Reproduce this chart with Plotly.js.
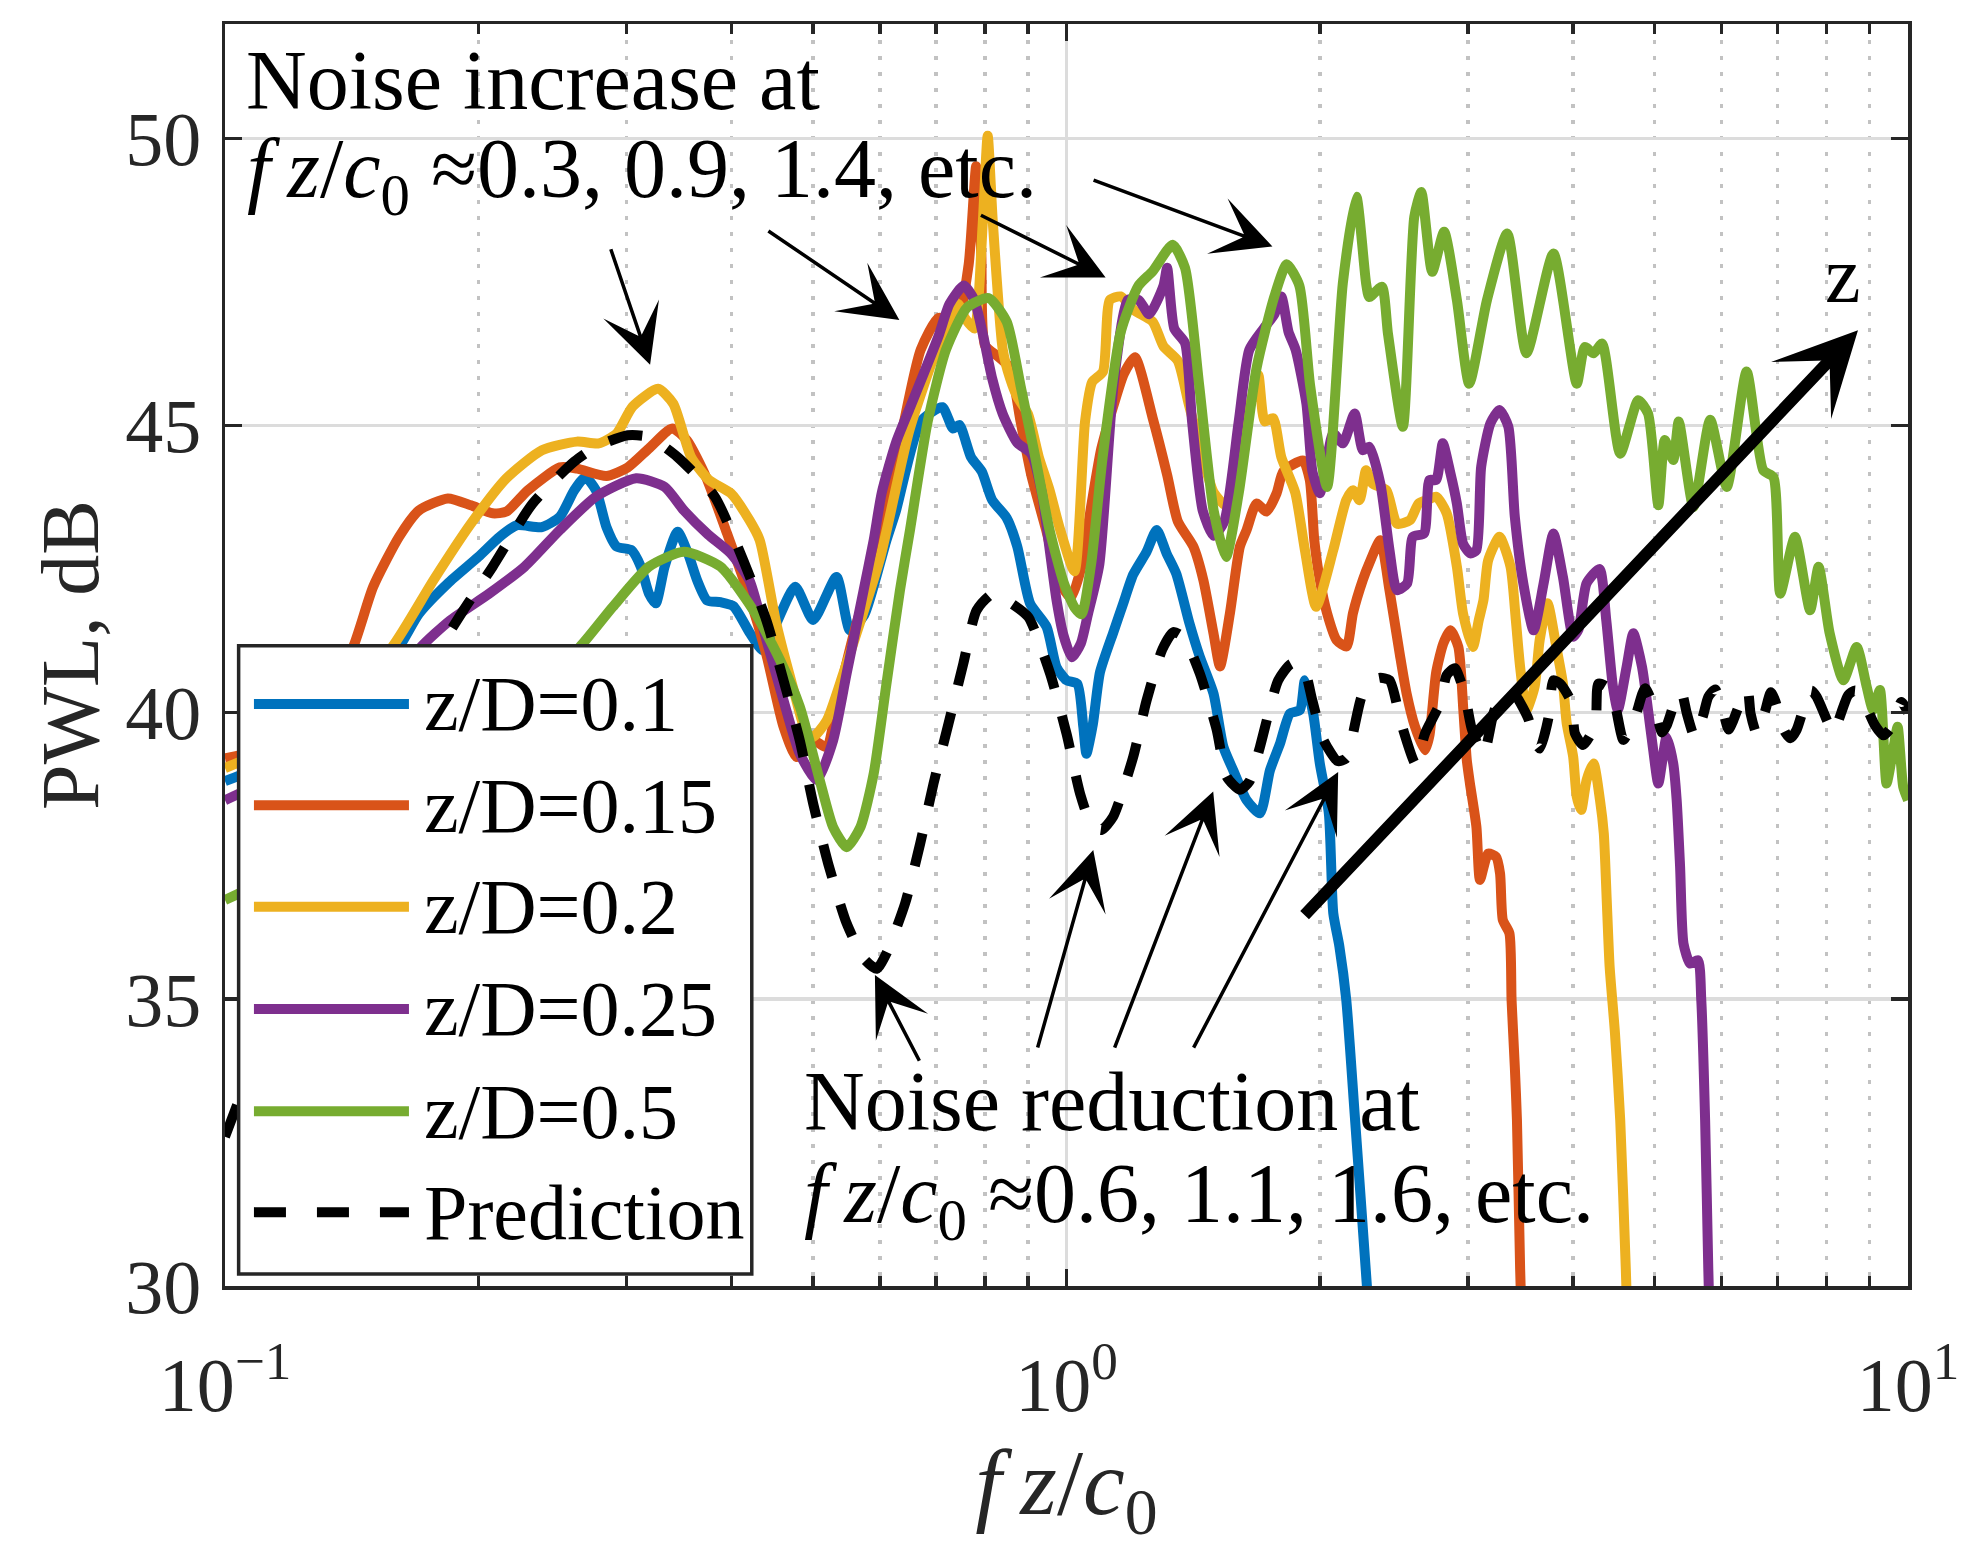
<!DOCTYPE html>
<html>
<head>
<meta charset="utf-8">
<script src="https://cdn.plot.ly/plotly-3.0.1.min.js"></script>
<style>
  html, body { margin: 0; padding: 0; background: #fff; }
  #chart { width: 1970px; height: 1548px; }
</style>
</head>
<body>
<div id="chart"></div>
<script>
// [fz/c0, PWL dB]
const blueData = [[0.1,38.8],[0.12,39.3],[0.14,40.1],[0.161,41.14],[0.17,41.72],[0.184,42.25],[0.2,42.71],[0.212,43.06],[0.222,43.26],[0.238,43.23],[0.25,43.41],[0.26,43.87],[0.268,44.1],[0.276,43.87],[0.284,43.23],[0.292,42.89],[0.304,42.83],[0.312,42.54],[0.319,42.07],[0.325,41.9],[0.333,42.54],[0.345,43.15],[0.355,42.77],[0.364,42.3],[0.374,41.95],[0.388,41.92],[0.402,41.85],[0.421,41.37],[0.436,41.08],[0.452,41.55],[0.476,42.19],[0.5,41.61],[0.533,42.36],[0.553,41.43],[0.575,41.7],[0.59,42.2],[0.611,43.0],[0.627,43.51],[0.671,45.07],[0.712,45.32],[0.733,44.95],[0.746,45.01],[0.77,44.45],[0.793,44.2],[0.816,43.7],[0.849,43.39],[0.874,42.89],[0.905,41.9],[0.947,41.49],[0.973,40.79],[1.0,40.56],[1.03,40.5],[1.047,39.75],[1.056,39.28],[1.075,39.8],[1.096,40.7],[1.137,41.4],[1.168,41.9],[1.2,42.4],[1.245,42.8],[1.28,43.18],[1.315,42.77],[1.35,42.42],[1.4,41.55],[1.44,40.97],[1.495,40.33],[1.536,39.4],[1.578,38.99],[1.637,38.47],[1.698,38.24],[1.745,38.99],[1.794,39.46],[1.843,39.98],[1.894,40.04],[1.92,40.56],[1.964,39.98],[2.0,39.11],[2.05,38.24],[2.075,36.5],[2.11,35.92],[2.15,34.99],[2.2,33.0],[2.27,30.2],[2.3,29]];

const orangeData = [[0.1,39.2],[0.12,39.5],[0.13,40.1],[0.142,41.14],[0.15,42.19],[0.161,43.06],[0.17,43.52],[0.184,43.73],[0.196,43.61],[0.208,43.47],[0.216,43.5],[0.229,43.87],[0.25,44.27],[0.262,44.25],[0.284,44.12],[0.301,44.27],[0.319,44.6],[0.34,44.95],[0.354,44.74],[0.373,44.1],[0.395,43.12],[0.42,42.01],[0.44,41.0],[0.461,39.75],[0.478,39.22],[0.5,39.51],[0.518,39.4],[0.538,40.39],[0.563,41.55],[0.6,42.77],[0.63,44.5],[0.671,46.32],[0.705,46.88],[0.74,46.81],[0.765,47.8],[0.781,49.52],[0.792,48.0],[0.8,46.4],[0.83,46.2],[0.857,46.0],[0.882,45.07],[0.908,44.14],[0.945,43.2],[0.982,42.27],[1.012,42.0],[1.04,42.5],[1.07,43.6],[1.1,44.6],[1.14,45.4],[1.17,45.9],[1.206,46.19],[1.266,45.13],[1.317,44.14],[1.356,43.33],[1.415,42.89],[1.454,42.31],[1.495,41.38],[1.522,40.8],[1.564,41.73],[1.607,42.89],[1.637,43.18],[1.682,43.64],[1.729,43.5],[1.777,43.82],[1.81,44.2],[1.91,44.39],[1.946,44.05],[1.97,43.0],[2.0,42.31],[2.04,41.73],[2.094,41.26],[2.152,41.15],[2.19,41.73],[2.25,42.31],[2.29,42.6],[2.36,43.0],[2.42,42.13],[2.49,41.0],[2.536,40.33],[2.595,39.75],[2.667,39.34],[2.7,39.6],[2.75,40.7],[2.804,41.2],[2.86,41.43],[2.922,41.14],[2.962,40.04],[2.99,39.17],[3.016,38.76],[3.07,38.0],[3.1,37.08],[3.17,37.54],[3.24,37.48],[3.275,37.19],[3.3,36.38],[3.36,36.15],[3.38,34.98],[3.41,33.82],[3.43,32.89],[3.46,30.3],[3.48,29]];

const yellowData = [[0.1,39.03],[0.13,39.8],[0.158,41.14],[0.177,42.31],[0.196,43.29],[0.216,44.08],[0.238,44.57],[0.262,44.72],[0.278,44.69],[0.292,44.86],[0.305,45.33],[0.327,45.64],[0.341,45.38],[0.358,44.45],[0.376,44.05],[0.399,43.82],[0.42,43.35],[0.432,43.0],[0.452,41.55],[0.474,40.39],[0.491,39.63],[0.5,39.57],[0.519,39.86],[0.543,40.68],[0.568,41.55],[0.601,42.71],[0.65,44.9],[0.7,46.3],[0.743,47.12],[0.757,46.88],[0.777,46.69],[0.795,48.5],[0.806,50.05],[0.817,48.6],[0.84,46.32],[0.857,45.82],[0.874,45.5],[0.9,45.2],[0.927,44.45],[0.954,43.89],[0.982,43.2],[1.022,42.46],[1.052,45.07],[1.073,45.76],[1.105,45.94],[1.126,47.19],[1.16,47.25],[1.206,47.0],[1.266,46.81],[1.304,46.38],[1.356,46.13],[1.397,45.38],[1.452,44.45],[1.496,43.83],[1.55,43.6],[1.6,44.3],[1.65,45.3],[1.69,45.88],[1.72,45.07],[1.76,45.13],[1.8,44.45],[1.87,43.83],[1.92,42.83],[1.98,41.84],[2.075,42.83],[2.15,43.7],[2.19,43.87],[2.23,43.7],[2.27,44.22],[2.31,43.99],[2.4,43.87],[2.47,43.29],[2.56,43.35],[2.62,43.64],[2.68,43.7],[2.75,43.76],[2.83,43.47],[2.91,42.54],[2.96,41.72],[3.04,41.14],[3.09,41.61],[3.13,41.96],[3.17,42.65],[3.27,43.06],[3.37,42.54],[3.42,41.6],[3.46,40.79],[3.52,40.04],[3.6,40.45],[3.65,41.26],[3.73,41.9],[3.82,41.14],[3.89,40.5],[3.93,39.81],[4.0,39.23],[4.04,38.53],[4.09,38.3],[4.15,38.82],[4.23,39.11],[4.305,38.47],[4.35,37.89],[4.385,36.73],[4.42,35.57],[4.485,34.41],[4.55,32.89],[4.62,30.3],[4.65,29]];

const purpleData = [[0.1,38.47],[0.13,39.3],[0.155,40.3],[0.171,41.14],[0.185,41.6],[0.206,42.07],[0.227,42.54],[0.25,43.18],[0.276,43.76],[0.308,44.08],[0.333,43.93],[0.351,43.52],[0.375,43.1],[0.399,42.77],[0.42,42.3],[0.44,41.26],[0.461,40.21],[0.482,39.28],[0.505,38.82],[0.528,39.51],[0.548,40.68],[0.574,42.13],[0.59,43.0],[0.603,43.82],[0.627,44.7],[0.652,45.32],[0.678,45.94],[0.705,46.57],[0.726,47.12],[0.755,47.44],[0.777,47.19],[0.796,46.57],[0.816,45.82],[0.84,45.2],[0.874,44.7],[0.908,44.51],[0.935,43.82],[0.954,42.89],[0.973,41.96],[0.992,41.34],[1.015,40.96],[1.04,41.2],[1.06,41.7],[1.094,42.58],[1.137,45.69],[1.183,47.19],[1.218,47.19],[1.254,46.94],[1.304,47.44],[1.317,47.75],[1.343,46.69],[1.383,46.44],[1.41,45.07],[1.452,43.51],[1.496,43.08],[1.54,43.33],[1.602,45.07],[1.649,46.32],[1.715,46.69],[1.766,46.94],[1.8,47.25],[1.836,46.63],[1.872,46.32],[1.928,45.38],[1.96,44.2],[2.0,43.82],[2.075,44.86],[2.13,44.69],[2.2,45.21],[2.25,44.57],[2.29,44.63],[2.36,43.99],[2.42,42.83],[2.47,42.13],[2.54,42.25],[2.58,43.06],[2.66,43.12],[2.7,44.05],[2.75,44.05],[2.8,44.69],[2.86,44.16],[2.91,43.64],[2.96,42.94],[3.02,42.77],[3.07,42.83],[3.11,44.28],[3.19,45.04],[3.27,45.27],[3.35,44.98],[3.41,43.41],[3.49,42.25],[3.59,41.43],[3.69,42.25],[3.79,43.12],[3.89,42.36],[4.0,41.32],[4.06,41.45],[4.15,42.25],[4.3,42.5],[4.38,41.6],[4.46,40.45],[4.52,40.04],[4.63,40.79],[4.716,41.38],[4.83,40.79],[4.91,40.04],[4.98,39.34],[5.05,38.76],[5.166,39.57],[5.26,39.11],[5.31,38.47],[5.36,37.31],[5.41,35.97],[5.51,35.62],[5.63,35.68],[5.68,34.98],[5.74,32.89],[5.79,30.3],[5.82,29]];

const greenData = [[0.1,36.73],[0.15,38.0],[0.2,39.5],[0.24,40.6],[0.264,41.14],[0.289,41.84],[0.319,42.54],[0.351,42.8],[0.388,42.54],[0.427,41.72],[0.457,40.9],[0.482,40.1],[0.509,38.82],[0.528,38.0],[0.548,37.65],[0.569,38.0],[0.59,38.93],[0.611,40.5],[0.634,42.13],[0.652,43.2],[0.684,45.07],[0.719,46.32],[0.762,47.06],[0.808,47.22],[0.849,46.81],[0.882,45.69],[0.918,44.45],[0.954,43.2],[0.992,42.27],[1.022,41.83],[1.042,41.71],[1.07,42.6],[1.104,44.45],[1.16,46.63],[1.218,47.44],[1.266,47.69],[1.337,48.15],[1.383,47.75],[1.438,45.69],[1.496,43.51],[1.547,42.71],[1.602,43.82],[1.682,46.0],[1.766,47.25],[1.827,47.81],[1.891,47.44],[1.948,45.69],[2.04,43.93],[2.13,47.48],[2.21,48.99],[2.27,47.48],[2.29,47.24],[2.37,47.42],[2.41,46.6],[2.51,44.98],[2.59,48.64],[2.64,49.07],[2.72,47.68],[2.81,48.38],[2.91,47.19],[3.01,45.73],[3.16,47.19],[3.34,48.35],[3.52,46.26],[3.79,48.0],[4.04,45.73],[4.13,46.37],[4.23,46.26],[4.33,46.43],[4.55,44.51],[4.78,45.44],[4.91,45.21],[5.05,43.61],[5.14,44.75],[5.26,44.4],[5.34,45.07],[5.56,43.58],[5.82,45.1],[6.09,43.93],[6.43,45.94],[6.73,44.22],[6.92,44.1],[7.05,42.07],[7.34,43.06],[7.65,41.78],[7.83,42.54],[8.07,41.38],[8.38,40.56],[8.69,41.14],[8.93,40.45],[9.09,40.04],[9.26,40.39],[9.43,38.76],[9.6,39.34],[9.72,39.75],[9.87,38.7],[10,38.47]];

const predictionData = [[0.1,32.6],[0.12,35.6],[0.15,38.7],[0.17,40.5],[0.192,41.78],[0.208,42.54],[0.232,43.64],[0.26,44.37],[0.276,44.63],[0.301,44.83],[0.319,44.8],[0.345,44.45],[0.382,43.76],[0.413,42.65],[0.44,41.6],[0.461,40.56],[0.482,39.51],[0.5,38.41],[0.521,37.36],[0.548,36.32],[0.575,35.7],[0.595,35.53],[0.611,35.8],[0.643,36.67],[0.67,37.71],[0.695,38.76],[0.724,39.8],[0.754,40.85],[0.782,41.78],[0.818,42.07],[0.86,41.9],[0.901,41.66],[0.956,40.68],[1.0,39.63],[1.038,38.58],[1.07,38.05],[1.1,37.95],[1.136,38.18],[1.2,39.22],[1.245,40.21],[1.3,41.1],[1.34,41.4],[1.38,41.3],[1.44,40.68],[1.508,39.7],[1.55,38.88],[1.607,38.65],[1.65,38.8],[1.698,39.4],[1.785,40.56],[1.85,40.85],[1.91,40.8],[1.96,40.2],[2.02,39.52],[2.1,39.15],[2.15,39.2],[2.25,40.33],[2.35,40.6],[2.42,40.56],[2.5,39.8],[2.6,39.1],[2.667,39.63],[2.779,40.16],[2.83,40.65],[2.894,40.77],[2.975,40.3],[3.03,39.72],[3.13,39.26],[3.216,39.98],[3.29,40.33],[3.36,40.38],[3.427,40.27],[3.538,39.89],[3.6,39.5],[3.652,39.37],[3.737,39.89],[3.79,40.56],[3.86,40.5],[3.98,40.18],[4.02,39.63],[4.11,39.43],[4.25,39.78],[4.285,40.5],[4.38,40.45],[4.485,40.13],[4.59,39.52],[4.74,39.92],[4.87,40.42],[5.03,39.95],[5.1,39.65],[5.17,39.78],[5.31,40.27],[5.38,40.35],[5.46,39.98],[5.58,39.57],[5.71,39.95],[5.79,40.27],[5.9,40.4],[6.03,40.01],[6.12,39.7],[6.2,39.86],[6.4,40.36],[6.45,40.38],[6.5,39.98],[6.61,39.63],[6.76,40.01],[6.87,40.35],[6.95,40.21],[7.14,39.66],[7.25,39.55],[7.37,39.69],[7.58,40.24],[7.68,40.38],[7.79,40.27],[8.04,39.81],[8.15,39.65],[8.26,39.84],[8.49,40.3],[8.65,40.38],[8.81,40.27],[9.13,39.78],[9.35,39.6],[9.56,39.75],[9.82,40.18],[10,40.0]];

const seriesNames = ['z/D=0.1', 'z/D=0.15', 'z/D=0.2', 'z/D=0.25', 'z/D=0.5', 'Prediction'];
const seriesData = [blueData, orangeData, yellowData, purpleData, greenData, predictionData];
const seriesColors = ['#0072BD', '#D95319', '#EDB120', '#7E2F8E', '#77AC30', '#000000'];

const xTickVals = [0.1, 1, 10];
const xTickText = ['10<sup>\u22121</sup>', '10<sup>0</sup>', '10<sup>1</sup>'];
const xMinorVals = [0.2, 0.3, 0.4, 0.5, 0.6, 0.7, 0.8, 0.9, 2, 3, 4, 5, 6, 7, 8, 9];
const yTickVals = [30, 35, 40, 45, 50];

const fzc = '<i>f</i>\u2009<i>z</i>/<i>c</i><sub>0</sub>';
const increaseText = ['Noise increase at', fzc + ' \u22480.3, 0.9, 1.4, etc.'];
const reductionText = ['Noise reduction at', fzc + ' \u22480.6, 1.1, 1.6, etc.'];

// arrows: [tail fz/c0, tail dB, head fz/c0, head dB]
const increaseArrows = [[0.287, 48.10, 0.320, 46.06], [0.4405, 48.41, 0.633, 46.84], [0.788, 48.68, 1.113, 47.58], [1.0725, 49.29, 1.757, 48.12]];
const reductionArrows = [[0.670, 33.9, 0.592, 35.42], [0.923, 34.13, 1.076, 37.6], [1.139, 34.13, 1.494, 38.62], [1.413, 34.13, 2.103, 38.96]];
const zArrow = [1.911, 36.44, 8.721, 46.66];

const axisColor = '#262626';
const fontFamily = "'Liberation Serif', 'DejaVu Serif', serif";

const traces = seriesData.map((pts, i) => ({
    x: pts.map(p => p[0]),
    y: pts.map(p => p[1]),
    type: 'scatter',
    mode: 'lines',
    name: seriesNames[i],
    line: {
        color: seriesColors[i],
        width: 10,
        shape: 'spline',
        smoothing: 0.6,
        dash: i === 5 ? '34px,28px' : 'solid',
    },
    showlegend: false,
    hoverinfo: 'skip',
}));

const annotations = [];
const shapes = [];

const makeArrow = (a, width, size) => ({
    xref: 'x', yref: 'y', axref: 'x', ayref: 'y',
    x: Math.log10(a[2]), y: a[3],
    ax: Math.log10(a[0]), ay: a[1],
    text: '', showarrow: true,
    arrowhead: 3, arrowsize: size, arrowwidth: width, arrowcolor: '#000',
    standoff: 0, startstandoff: 0,
});
increaseArrows.forEach(a => annotations.push(makeArrow(a, 3.5, 2.8)));
reductionArrows.forEach(a => annotations.push(makeArrow(a, 3.5, 2.8)));
annotations.push(makeArrow(zArrow, 12, 1.15));
annotations.push({
    xref: 'x', yref: 'y', x: Math.log10(8.37), y: 47.62,
    text: 'z', showarrow: false, font: {size: 80, color: '#000'},
});

const textLine = (txt, x, y) => ({
    xref: 'paper', yref: 'paper', x: x, y: y,
    xanchor: 'left', yanchor: 'middle',
    text: txt, showarrow: false,
    font: {size: 84, color: '#000'},
});
annotations.push(textLine(increaseText[0], 0.011, 0.955));
annotations.push(textLine(increaseText[1], 0.012, 0.880));
annotations.push(textLine(reductionText[0], 0.343, 0.146));
annotations.push(textLine(reductionText[1], 0.343, 0.068));

// legend drawn by hand so the line samples can be long
const legendRowY = [0.4612, 0.3810, 0.3005, 0.2195, 0.1385, 0.0585];
shapes.push({
    type: 'rect', xref: 'paper', yref: 'paper',
    x0: 0.0081, x1: 0.3130, y0: 0.0095, y1: 0.5074,
    fillcolor: '#ffffff', line: {color: axisColor, width: 3.5}, layer: 'above',
});
seriesNames.forEach((nm, i) => {
    shapes.push({
        type: 'line', xref: 'paper', yref: 'paper',
        x0: 0.0172, x1: 0.1093, y0: legendRowY[i], y1: legendRowY[i],
        line: {color: seriesColors[i], width: 10, dash: i === 5 ? '32px,31px' : 'solid'},
        layer: 'above',
    });
    annotations.push({
        xref: 'paper', yref: 'paper', x: 0.117, y: legendRowY[i],
        xanchor: 'left', yanchor: 'middle',
        text: nm, showarrow: false,
        font: {size: 78, color: '#000'},
    });
});

const layout = {
    width: 1970,
    height: 1548,
    margin: {l: 225, r: 62, t: 24, b: 262, pad: 0},
    paper_bgcolor: '#ffffff',
    plot_bgcolor: '#ffffff',
    font: {family: fontFamily, size: 76, color: axisColor},
    showlegend: false,
    xaxis: {
        type: 'log',
        range: [-1, 1],
        autorange: false,
        tickmode: 'array',
        tickvals: xTickVals,
        ticktext: xTickText,
        ticks: 'inside',
        ticklen: 17,
        tickwidth: 3.5,
        tickcolor: axisColor,
        showline: true,
        linewidth: 3.5,
        linecolor: axisColor,
        mirror: 'ticks',
        showgrid: true,
        gridcolor: '#dcdcdc',
        gridwidth: 3.5,
        zeroline: false,
        ticklabelstandoff: 30,
        minor: {
            tickmode: 'array',
            tickvals: xMinorVals,
            ticks: 'inside',
            ticklen: 10,
            tickwidth: 3.5,
            tickcolor: axisColor,
            showgrid: true,
            gridcolor: '#c2c2c2',
            gridwidth: 3.5,
            griddash: '4px,12px',
        },
        title: {text: '<i>f</i>\u2009<i>z</i>/<i>c</i><sub>0</sub>', font: {size: 94, color: axisColor}, standoff: 24},
        automargin: false,
    },
    yaxis: {
        range: [30, 52],
        autorange: false,
        tickmode: 'array',
        tickvals: yTickVals,
        ticks: 'inside',
        ticklen: 17,
        tickwidth: 3.5,
        tickcolor: axisColor,
        showline: true,
        linewidth: 3.5,
        linecolor: axisColor,
        mirror: 'ticks',
        showgrid: true,
        gridcolor: '#dcdcdc',
        gridwidth: 3.5,
        zeroline: false,
        ticklabelstandoff: 5,
        title: {text: 'PWL, dB', font: {size: 82, color: axisColor}, standoff: 0},
        automargin: false,
    },
    annotations: annotations,
    shapes: shapes,
};

Plotly.newPlot('chart', traces, layout, {staticPlot: true, displayModeBar: false});
</script>
</body>
</html>
